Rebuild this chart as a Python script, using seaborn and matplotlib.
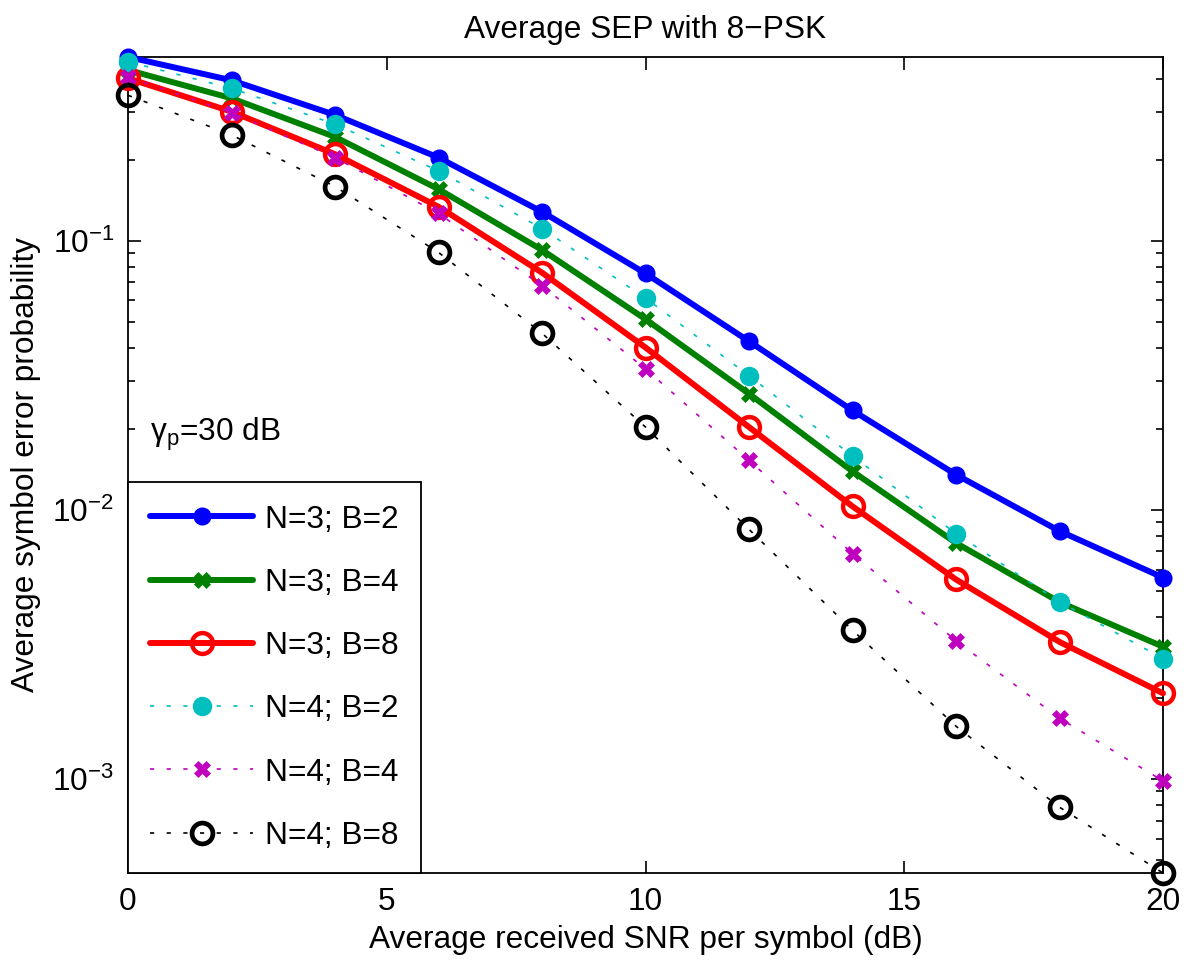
import numpy as np
import pandas as pd
import matplotlib
matplotlib.use("Agg")
import matplotlib.pyplot as plt
import seaborn as sns
from matplotlib.ticker import LogLocator, LogFormatterSciNotation, NullFormatter

# ---- data ----
snr_db = [0, 2, 4, 6, 8, 10, 12, 14, 16, 18, 20]
sep_n3_b2 = [0.4817, 0.3947, 0.2935, 0.2037, 0.1281, 0.0756, 0.0423, 0.0234, 0.01351, 0.00834, 0.00560]
sep_n3_b4 = [0.4310, 0.3384, 0.2431, 0.1555, 0.0924, 0.0511, 0.0270, 0.01390, 0.00753, 0.00454, 0.00310]
sep_n3_b8 = [0.4015, 0.3019, 0.2097, 0.1337, 0.0761, 0.0401, 0.0203, 0.01030, 0.00551, 0.00323, 0.00208]
sep_n4_b2 = [0.4627, 0.3686, 0.2710, 0.1818, 0.1110, 0.0612, 0.0315, 0.01584, 0.00816, 0.00455, 0.00280]
sep_n4_b4 = [0.4060, 0.2993, 0.2037, 0.1263, 0.0681, 0.0334, 0.01527, 0.00688, 0.00326, 0.00168, 0.000983]
sep_n4_b8 = [0.3472, 0.2473, 0.1590, 0.0905, 0.0453, 0.0203, 0.00846, 0.00357, 0.00157, 0.000785, 0.000447]

labels = ["N=3; B=2", "N=3; B=4", "N=3; B=8", "N=4; B=2", "N=4; B=4", "N=4; B=8"]
x_ticks = [0, 5, 10, 15, 20]
title = "Average SEP with 8\u2212PSK"
xlabel = "Average received SNR per symbol (dB)"
ylabel = "Average symbol error probability"
annot = r"$\mathrm{\gamma}_\mathrm{p}$=30 dB"

series = [sep_n3_b2, sep_n3_b4, sep_n3_b8, sep_n4_b2, sep_n4_b4, sep_n4_b8]

# ---- style ----
sns.set_theme(style="ticks")
plt.rcParams["font.family"] = ["Liberation Sans", "DejaVu Sans"]
plt.rcParams["mathtext.fontset"] = "custom"
plt.rcParams["mathtext.rm"] = "Liberation Sans"
plt.rcParams["mathtext.it"] = "Liberation Sans:italic"
plt.rcParams["mathtext.bf"] = "Liberation Sans:bold"
plt.rcParams["axes.unicode_minus"] = True
for k in ["text.color", "axes.labelcolor", "xtick.color", "ytick.color", "axes.edgecolor"]:
    plt.rcParams[k] = "black"

FS = 22.8
DOT = (0, (2.5, 7.5))

styles = [
    dict(color=(0, 0, 1), marker="o", ls="-", lw=4.3, ms=12, mfc=(0, 0, 1), mec=(0, 0, 1), mew=1),
    dict(color=(0, 0.5, 0), marker="X", ls="-", lw=4.3, ms=11.5, mfc=(0, 0.5, 0), mec=(0, 0.5, 0), mew=0.5),
    dict(color=(1, 0, 0), marker="o", ls="-", lw=4.3, ms=15, mfc="none", mec=(1, 0, 0), mew=3.2),
    dict(color=(0, 0.75, 0.75), marker="o", ls=DOT, lw=1.2, ms=13, mfc=(0, 0.75, 0.75), mec=(0, 0.75, 0.75), mew=1),
    dict(color=(0.75, 0, 0.75), marker="X", ls=DOT, lw=1.2, ms=12, mfc=(0.75, 0, 0.75), mec=(0.75, 0, 0.75), mew=0.5),
    dict(color=(0, 0, 0), marker="o", ls=DOT, lw=1.2, ms=15, mfc="none", mec=(0, 0, 0), mew=3.4),
]

fig = plt.figure(figsize=(11.86, 9.61), dpi=100)
ax = fig.add_axes([128 / 1186, 88 / 961, 1035 / 1186, 816 / 961])

handles = []
for vals, lab, st in zip(series, labels, styles):
    df = pd.DataFrame({"snr": snr_db, "sep": vals})
    sns.lineplot(data=df, x="snr", y="sep", ax=ax, color=st["color"],
                 marker=st["marker"], linestyle=st["ls"], linewidth=st["lw"],
                 markersize=st["ms"], markerfacecolor=st["mfc"],
                 markeredgecolor=st["mec"], markeredgewidth=st["mew"],
                 label=lab, clip_on=False, legend=False, zorder=3)
    handles.append(ax.get_lines()[-1])

ax.set_yscale("log")
ax.set_xlim(min(snr_db), max(snr_db))
ax.set_ylim(min(sep_n4_b8), max(sep_n3_b2))
ax.set_xticks(x_ticks)
ax.set_xticklabels([str(t) for t in x_ticks])
ax.yaxis.set_major_locator(LogLocator(base=10))
ax.yaxis.set_major_formatter(LogFormatterSciNotation())
ax.yaxis.set_minor_locator(LogLocator(base=10, subs=np.arange(2, 10)))
ax.yaxis.set_minor_formatter(NullFormatter())

ax.tick_params(which="both", direction="in", top=True, right=True, colors="black",
               labelsize=FS, width=1.2)
ax.tick_params(which="major", length=9, pad=10)
ax.tick_params(which="minor", length=5)
for sp in ax.spines.values():
    sp.set_color("black")
    sp.set_linewidth(1.3)

ax.set_xlabel(xlabel, fontsize=FS, labelpad=6)
ax.set_ylabel(ylabel, fontsize=FS, labelpad=8)
ax.set_title(title, fontsize=FS, pad=14)

ax.text(0.021, 0.53, annot, transform=ax.transAxes, fontsize=FS, ha="left", va="baseline")

leg = ax.legend(handles=handles, labels=labels, loc="lower left", borderaxespad=0,
                fontsize=FS, frameon=True, fancybox=False, framealpha=1,
                edgecolor="black", handlelength=3.25, handletextpad=0.38,
                labelspacing=1.05, borderpad=0.7)
leg.get_frame().set_linewidth(1.3)

fig.savefig("out.png", dpi=100, facecolor="white")
